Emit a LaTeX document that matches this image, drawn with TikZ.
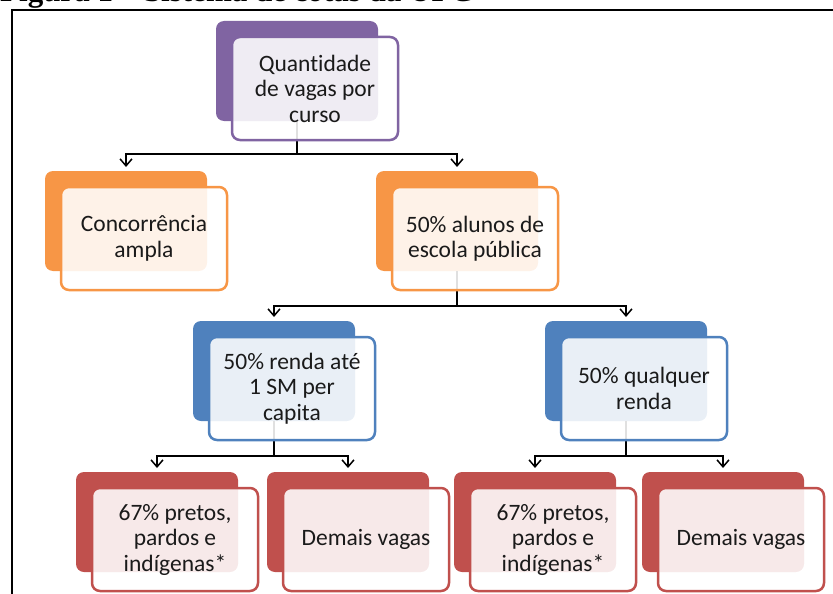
\documentclass[tikz,border=0pt]{standalone}
\usepackage{fontspec}
\setmainfont{Carlito}[Ligatures=NoCommon]
\newfontfamily\titlefont{Liberation Serif}
\usetikzlibrary{arrows.meta}
\definecolor{cpurple}{HTML}{8064A2}
\definecolor{corange}{HTML}{F79646}
\definecolor{cblue}{HTML}{4F81BD}
\definecolor{cred}{HTML}{C0504D}
\definecolor{ctext}{HTML}{1A1A1A}
\begin{document}
\begin{tikzpicture}[x=1pt,y=-1pt,
  backbox/.style={fill=#1, rounded corners=8pt, minimum width=162pt, minimum height=100pt, inner sep=0pt, outer sep=0pt},
  frontbox/.style={draw=#1, line width=2.5pt, fill=white, fill opacity=0.88, text opacity=1, text=ctext,
    rounded corners=8pt, minimum width=166pt, minimum height=103pt, inner sep=0pt, outer sep=0pt,
    align=center, font=\fontsize{23.5}{25.5}\selectfont},
  link/.style={draw=black, line width=1.5pt},
  conn/.style={link, shorten >=4pt, -{Straight Barb[length=7pt,width=12pt,line width=1.5pt]}}
]
\useasboundingbox (0,0) rectangle (833,594);
% frame and (cropped) title
\draw[line width=2pt] (12,600) -- (12,10) -- (840,10);
\node[anchor=base west, inner sep=0pt, font=\titlefont\bfseries\fontsize{31}{35}\selectfont] (title) at (0,1.5) {Figura 1 – Sistema de cotas da UFC};

% back boxes
\node[backbox=cpurple] (topb) at (297,71) {};
\node[backbox=corange] (l2ab) at (126,221) {};
\node[backbox=corange] (l2bb) at (457,221) {};
\node[backbox=cblue] (l3ab) at (274,371) {};
\node[backbox=cblue] (l3bb) at (626,371) {};
\node[backbox=cred] (l4ab) at (157,522) {};
\node[backbox=cred] (l4bb) at (348,522) {};
\node[backbox=cred] (l4cb) at (535,522) {};
\node[backbox=cred] (l4db) at (723,522) {};

% connectors
\coordinate (j1) at (297,154);
\draw[link] (topb.south) -- (j1);
\draw[conn] (j1) -| (l2ab.north);
\draw[conn] (j1) -| (l2bb.north);
\coordinate (j2) at (457,306);
\draw[link] (l2bb.south) -- (j2);
\draw[conn] (j2) -| (l3ab.north);
\draw[conn] (j2) -| (l3bb.north);
\coordinate (j3) at (274,456);
\draw[link] (l3ab.south) -- (j3);
\draw[conn] (j3) -| (l4ab.north);
\draw[conn] (j3) -| (l4bb.north);
\coordinate (j4) at (626,456);
\draw[link] (l3bb.south) -- (j4);
\draw[conn] (j4) -| (l4cb.north);
\draw[conn] (j4) -| (l4db.north);

% front boxes
\node[frontbox=cpurple] (topf) at (315,88.5) {Quantidade\\de vagas por\\curso};
\node[frontbox=corange] (l2af) at (144,238.5) {Concorrência\\ampla};
\node[frontbox=corange] (l2bf) at (475,238.5) {50\% alunos de\\escola pública};
\node[frontbox=cblue] (l3af) at (292,388.5) {50\% renda até\\1 SM per\\capita};
\node[frontbox=cblue] (l3bf) at (644,388.5) {50\% qualquer\\renda};
\node[frontbox=cred] (l4af) at (175,539.5) {67\% pretos,\\pardos e\\indígenas*};
\node[frontbox=cred] (l4bf) at (366,539.5) {Demais vagas};
\node[frontbox=cred] (l4cf) at (553,539.5) {67\% pretos,\\pardos e\\indígenas*};
\node[frontbox=cred] (l4df) at (741,539.5) {Demais vagas};
\end{tikzpicture}
\end{document}
